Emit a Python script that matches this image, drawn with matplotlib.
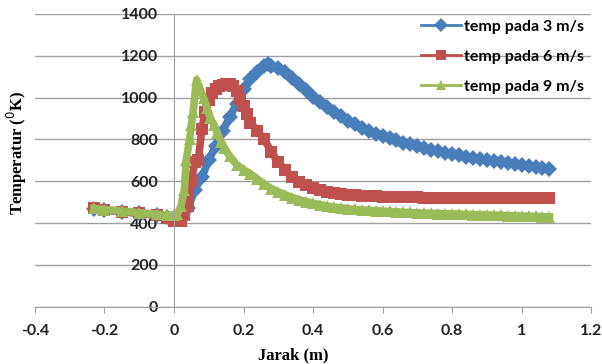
import matplotlib
matplotlib.use('Agg')
import matplotlib.pyplot as plt
from matplotlib.lines import Line2D

# temp pada 3 m/s
x3 = [-0.23, -0.20, -0.15, -0.10, -0.05, -0.02, 0.00, 0.02, 0.04, 0.06, 0.08, 0.10, 0.12, 0.14,
      0.16, 0.18, 0.20, 0.22, 0.24, 0.26, 0.27, 0.28, 0.30, 0.32, 0.34, 0.36, 0.38, 0.40, 0.42,
      0.44, 0.46, 0.48, 0.50, 0.52, 0.54, 0.56, 0.58, 0.60, 0.62, 0.64, 0.66, 0.68, 0.70, 0.72,
      0.74, 0.76, 0.78, 0.80, 0.82, 0.84, 0.86, 0.88, 0.90, 0.92, 0.94, 0.96, 0.98, 1.00, 1.02,
      1.04, 1.06, 1.08]
t3 = [468, 462, 455, 447, 438, 430, 420, 430, 470, 560, 620, 700, 770, 840,
      905, 970, 1040, 1090, 1120, 1150, 1160, 1152, 1140, 1120, 1092, 1065, 1035, 1005, 978,
      955, 933, 910, 890, 872, 856, 842, 828, 816, 805, 795, 785, 776, 767, 759,
      751, 744, 737, 730, 724, 718, 712, 707, 702, 697, 692, 687, 682, 677, 673,
      669, 665, 660]

# temp pada 6 m/s
x6 = [-0.23, -0.20, -0.15, -0.10, -0.05, -0.02, 0.00, 0.02, 0.03, 0.04, 0.05, 0.06, 0.07, 0.08,
      0.09, 0.10, 0.11, 0.12, 0.13, 0.14, 0.15, 0.16, 0.17, 0.18, 0.19, 0.20, 0.21, 0.22, 0.24,
      0.26, 0.28, 0.30, 0.32, 0.34, 0.36, 0.38, 0.40, 0.42, 0.44, 0.46, 0.48, 0.50, 0.52, 0.54,
      0.56, 0.58, 0.60, 0.62, 0.64, 0.66, 0.68, 0.70, 0.72, 0.74, 0.76, 0.78, 0.80, 0.82, 0.84,
      0.86, 0.88, 0.90, 0.92, 0.94, 0.96, 0.98, 1.00, 1.02, 1.04, 1.06, 1.08]
t6 = [470, 463, 455, 447, 438, 425, 410, 410, 440, 480, 600, 690, 700, 850,
      930, 990, 1020, 1040, 1055, 1060, 1065, 1065, 1055, 1030, 995, 960, 920, 880, 840,
      800, 740, 690, 655, 620, 598, 580, 566, 556, 548, 543, 539, 535, 533, 531,
      530, 529, 527, 526, 525, 524, 523, 523, 522, 522, 521, 521, 521, 520, 520,
      520, 520, 520, 520, 520, 520, 520, 520, 520, 520, 520, 520]

# temp pada 9 m/s
x9 = [-0.23, -0.20, -0.15, -0.10, -0.05, -0.02, 0.00, 0.01, 0.02, 0.03, 0.035, 0.045, 0.05, 0.055,
      0.065, 0.075, 0.085, 0.095, 0.105, 0.115, 0.125, 0.135, 0.145, 0.16, 0.18, 0.20, 0.22, 0.24,
      0.26, 0.28, 0.30, 0.32, 0.34, 0.36, 0.38, 0.40, 0.42, 0.44, 0.46, 0.48, 0.50, 0.52, 0.54,
      0.56, 0.58, 0.60, 0.62, 0.64, 0.66, 0.68, 0.70, 0.72, 0.74, 0.76, 0.78, 0.80, 0.82, 0.84,
      0.86, 0.88, 0.90, 0.92, 0.94, 0.96, 0.98, 1.00, 1.02, 1.04, 1.06, 1.08]
t9 = [470, 465, 458, 450, 442, 438, 440, 445, 480, 560, 700, 800, 870, 930,
      1085, 1040, 1000, 950, 900, 870, 830, 790, 760, 720, 680, 655, 635, 610,
      585, 565, 550, 535, 522, 512, 503, 495, 488, 482, 477, 473, 469, 466, 463,
      461, 459, 457, 456, 454, 452, 451, 449, 448, 447, 446, 445, 444, 443, 442,
      441, 440, 439, 438, 437, 436, 435, 434, 433, 432, 431, 430]

labels = ['temp pada 3 m/s', 'temp pada 6 m/s', 'temp pada 9 m/s']
colors = ['#4A7EBB', '#C0504D', '#9BBB59']
markers = ['D', 's', '^']
msizes = [8, 8.5, 9]

fig = plt.figure(figsize=(6.02, 3.64), dpi=100)
ax = fig.add_axes([0.058, 0.157, 0.924, 0.805])

for xs, ys, c, m, ms in zip([x3, x6, x9], [t3, t6, t9], colors, markers, msizes):
    ax.plot(xs, ys, color=c, marker=m, markersize=ms, linewidth=5.5,
            markeredgewidth=0, solid_joinstyle='round')

ax.set_xlim(-0.4, 1.2)
ax.set_ylim(0, 1400)
ax.set_xticks([-0.4, -0.2, 0, 0.2, 0.4, 0.6, 0.8, 1, 1.2])
ax.set_xticklabels(['-0.4', '-0.2', '0', '0.2', '0.4', '0.6', '0.8', '1', '1.2'])
ax.set_yticks(range(0, 1401, 200))

ax.grid(axis='y', color='#A0A0A0', linewidth=1)
ax.set_axisbelow(True)
for s in ['top', 'right']:
    ax.spines[s].set_visible(False)
ax.spines['left'].set_position(('data', 0))
ax.spines['left'].set_color('#A0A0A0')
ax.spines['bottom'].set_color('#A0A0A0')

ax.tick_params(axis='y', length=0, pad=11.5, labelsize=11.5)
ax.tick_params(axis='x', length=4, color='#A0A0A0', direction='out', pad=8, labelsize=11.5)
for lbl in ax.get_xticklabels() + ax.get_yticklabels():
    lbl.set_fontweight('bold')
    lbl.set_family(['Lato', 'DejaVu Sans'])
    lbl.set_color('#222222')

fig.text(0.028, 0.58, 'Temperatur ($^{0}$K)', rotation=90, ha='center', va='center',
         family=['Liberation Serif', 'DejaVu Serif'], fontweight='bold', fontsize=12)
fig.text(0.487, 0.025, 'Jarak (m)', ha='center', va='center',
         family=['Liberation Serif', 'DejaVu Serif'], fontweight='bold', fontsize=12)

handles = [Line2D([], [], color=c, marker=m, markersize=7.5, linewidth=2, markeredgewidth=0)
           for c, m in zip(colors, markers)]
ax.legend(handles, labels, loc='upper right', bbox_to_anchor=(1.013, 1.03), frameon=False,
          handlelength=2.5, handletextpad=0.2, labelspacing=1.0,
          prop={'size': 11.5, 'weight': 'bold', 'family': ['Lato', 'DejaVu Sans']})

fig.savefig('out.png', dpi=100)
